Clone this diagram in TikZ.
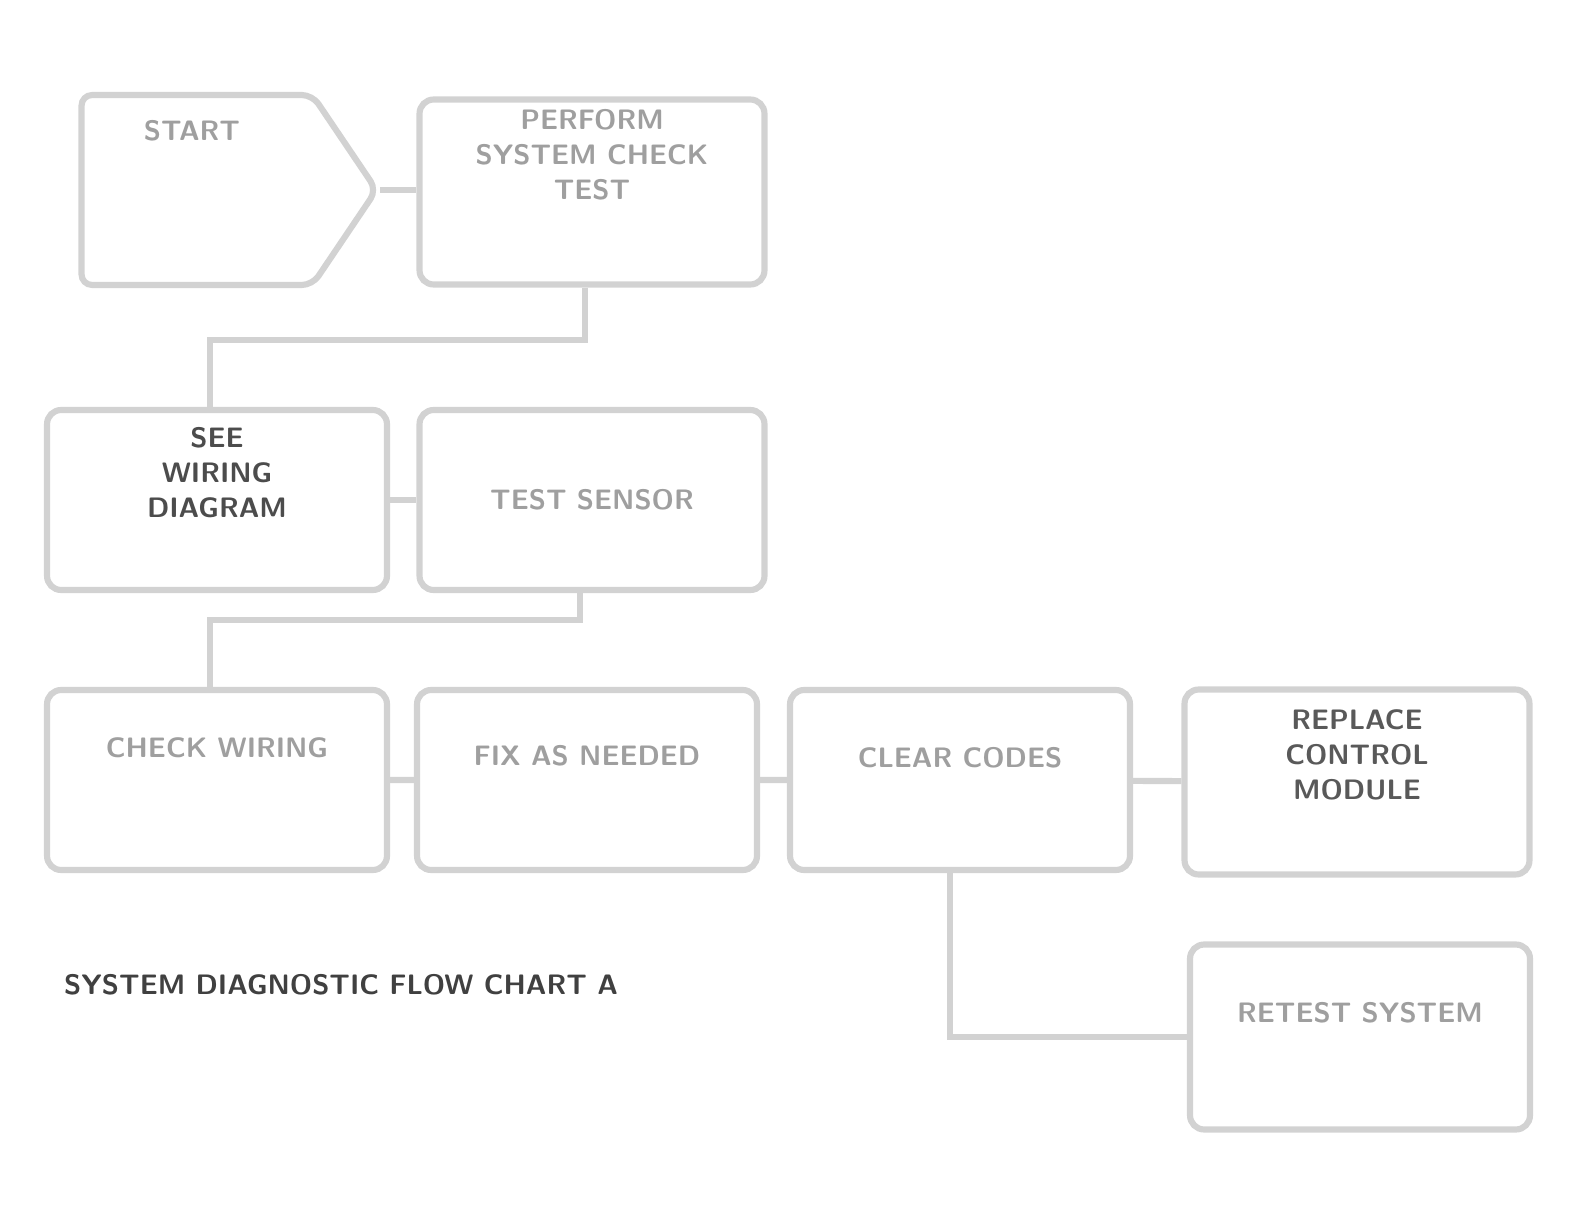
\documentclass[tikz,border=0pt]{standalone}
\usepackage{tikz}
\usetikzlibrary{shapes.symbols}
\begin{document}
\begin{tikzpicture}[x=0.02cm,y=-0.02cm]
	\tikzstyle{every node}=[font=\sffamily\bfseries\fontsize{16}{20}\selectfont,text=gray!75,align=center];
	\tikzstyle{box}=[draw=gray!35,line width=3.5pt,rounded corners=8pt,shape=rectangle,minimum width=6.8cm,minimum height=3.6cm];
	\tikzstyle{wire}=[draw=gray!35,line width=3.5pt];
	\useasboundingbox (0,0) rectangle (1571,1209);
	\node[draw=gray!35,line width=3.5pt,rounded corners=6pt,shape=signal,signal to=east,signal pointer angle=112,minimum width=5.9cm,minimum height=3.8cm] (v0) at (197,190) {\hspace*{-0.2cm}START\\[1.7cm]};
	\node[box,minimum width=6.9cm,minimum height=3.7cm] (v1) at (592,192) {PERFORM\\SYSTEM CHECK\\TEST\\[0.8cm]};
	\node[box,text=black!70] (v2) at (217,500) {SEE\\WIRING\\DIAGRAM\\[0.4cm]};
	\node[box,minimum width=6.9cm] (v3) at (592,500) {TEST SENSOR};
	\node[box] (v4) at (217,780) {CHECK WIRING\\[0.6cm]};
	\node[box] (v5) at (587,780) {FIX AS NEEDED\\[0.3cm]};
	\node[box] (v6) at (960,780) {CLEAR CODES\\[0.2cm]};
	\node[box,minimum width=6.9cm,minimum height=3.7cm,text=black!65] (v7) at (1357,782) {REPLACE\\CONTROL\\MODULE\\[0.4cm]};
	\node[box,minimum height=3.7cm] (v8) at (1360,1037) {RETEST SYSTEM\\[0.3cm]};
	\node[text=black!75,anchor=west] (v9) at (58,985) {SYSTEM DIAGNOSTIC FLOW CHART A};
	\coordinate (k1) at (585,340);
	\coordinate (k2) at (210,340);
	\coordinate (k3) at (580,620);
	\coordinate (k4) at (210,620);
	\coordinate (k5) at (950,1037);
	\draw[wire] (v0.east) -- (v0.east -| v1.west);
	\draw[wire] (v1.south -| k1) -- (k1) -- (k2) -- (k2 |- v2.north);
	\draw[wire] (v2) -- (v3);
	\draw[wire] (v3.south -| k3) -- (k3) -- (k4) -- (k4 |- v4.north);
	\draw[wire] (v4) -- (v5)
	(v5) -- (v6)
	(v6) -- (v7);
	\draw[wire] (v6.south -| k5) -- (k5) -- (v8.west);
\end{tikzpicture}
\end{document}
